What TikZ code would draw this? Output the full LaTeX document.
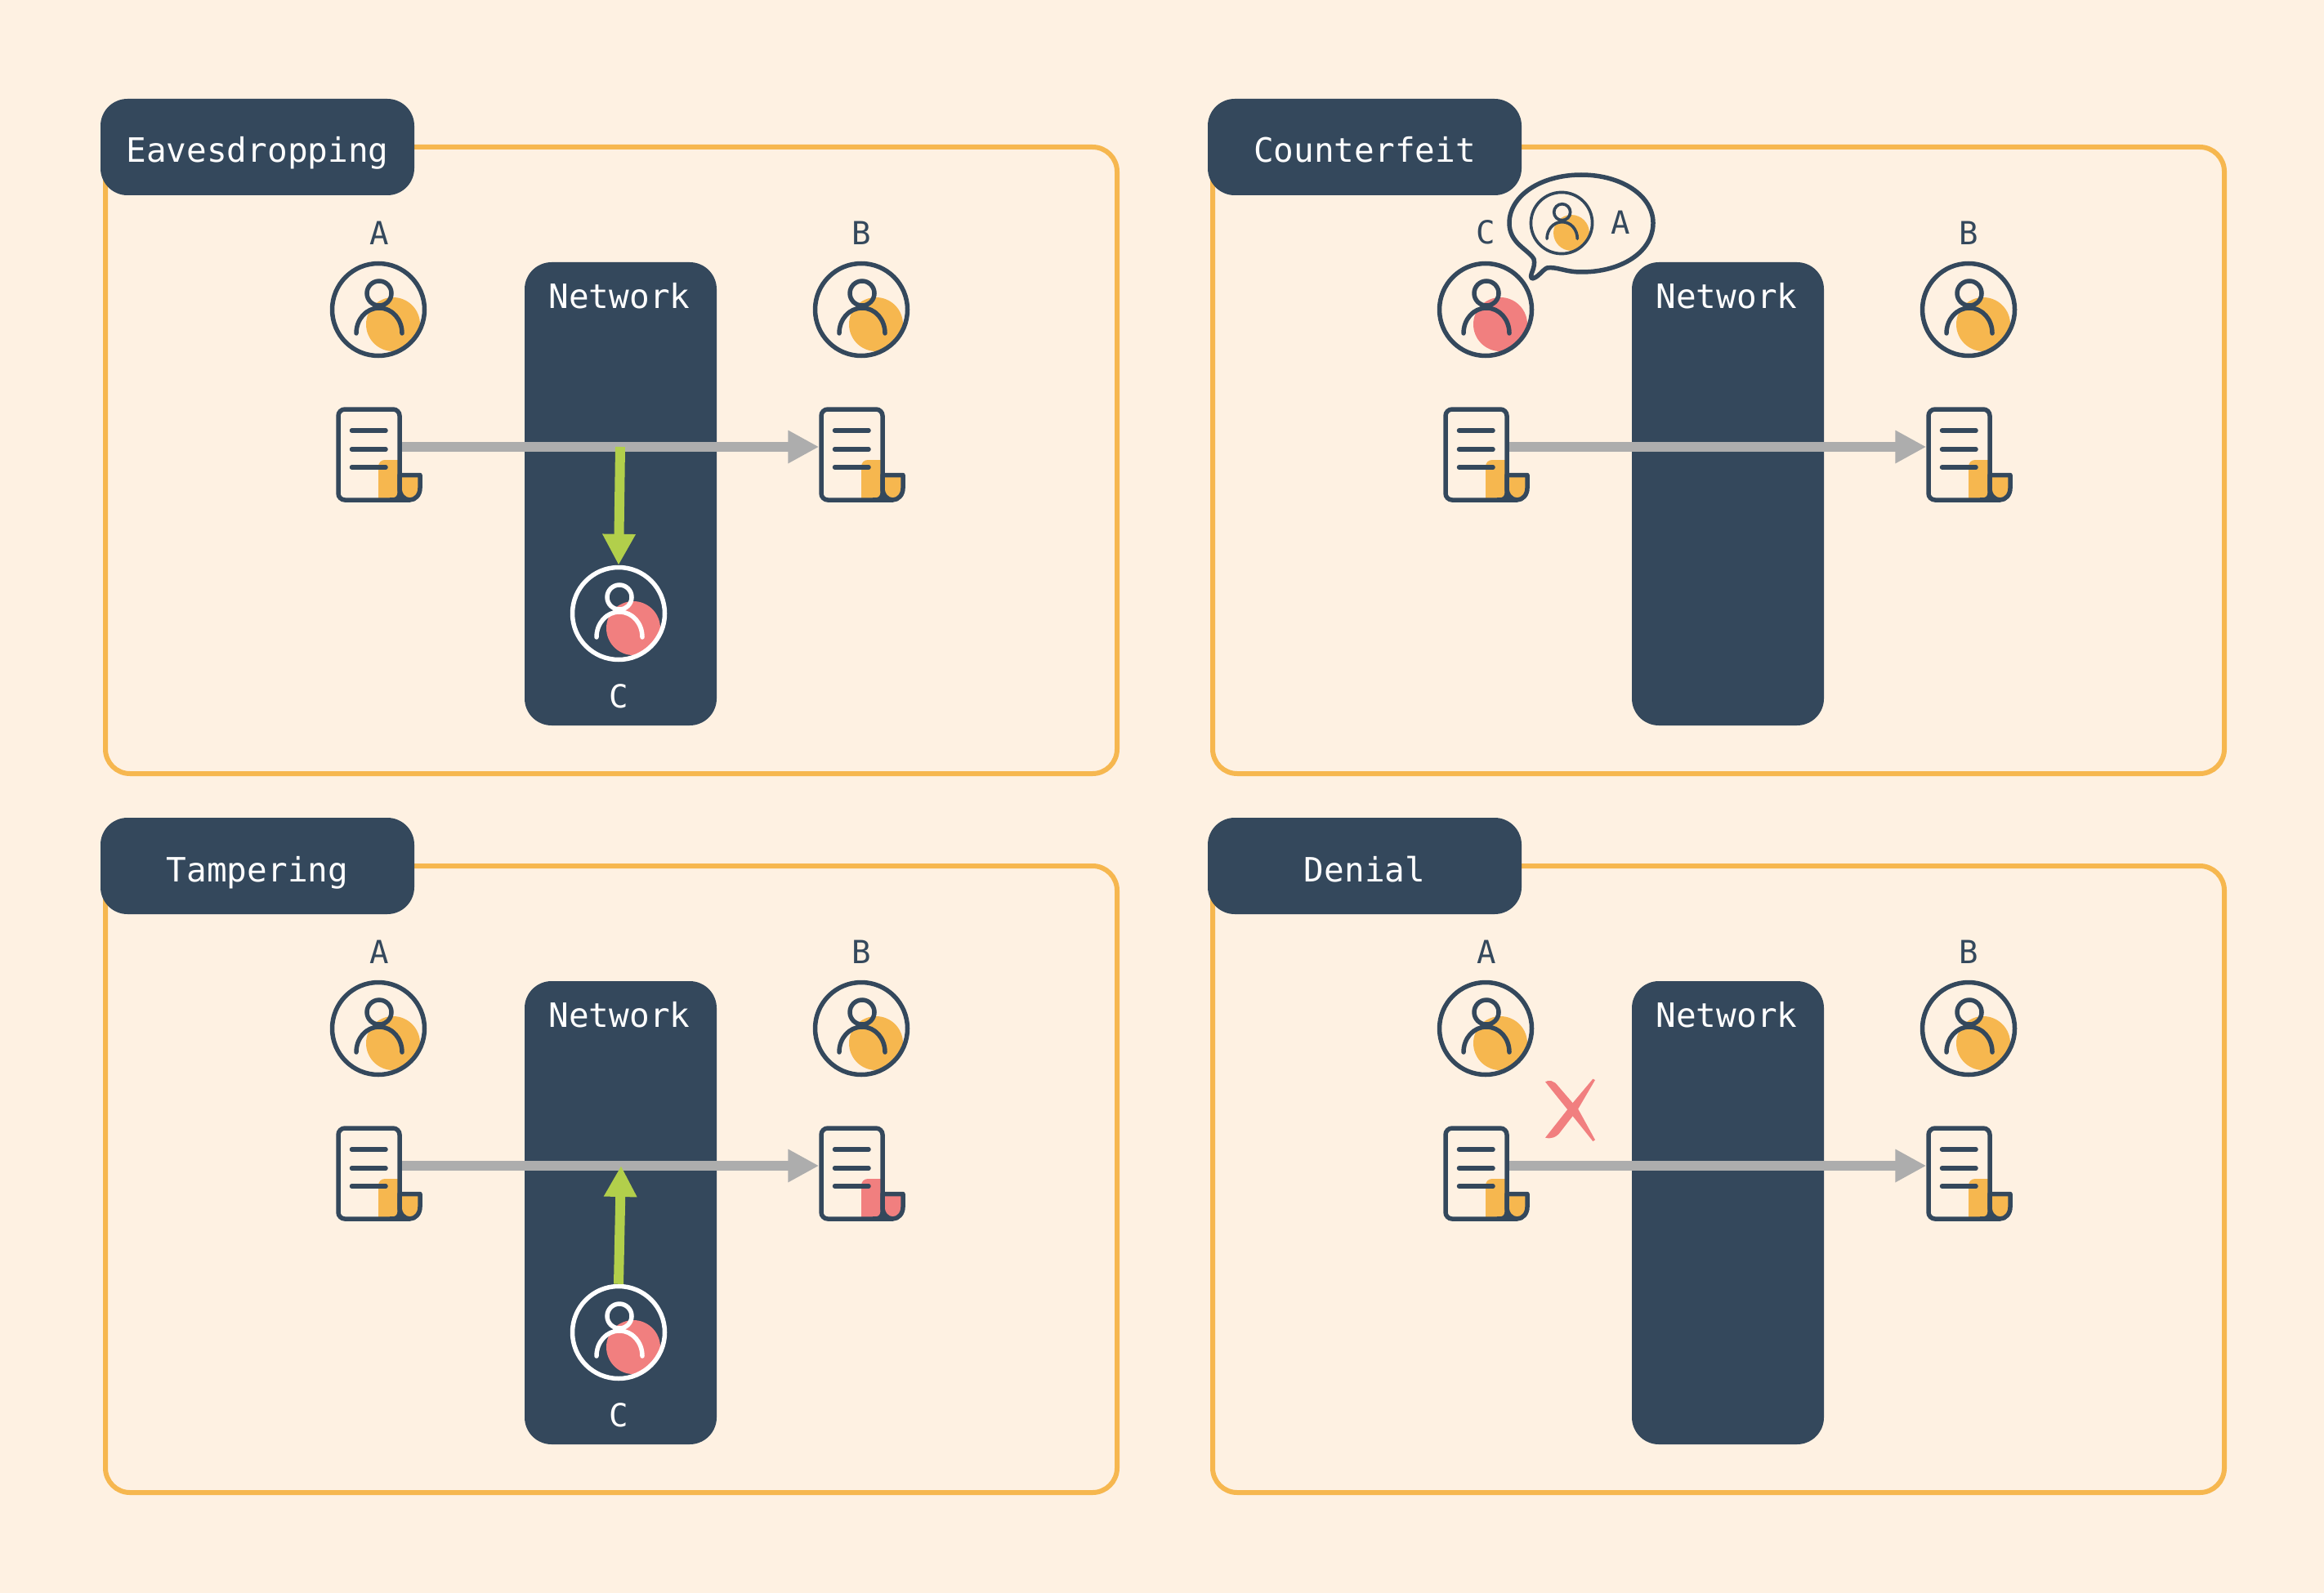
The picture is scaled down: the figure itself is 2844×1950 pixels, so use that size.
\documentclass[tikz,border=0pt]{standalone}
\usepackage{fontspec}
\setmonofont{DejaVu Sans Mono}
\usetikzlibrary{arrows.meta}
\definecolor{bgc}{HTML}{FEF1E2}
\definecolor{navy}{HTML}{34485C}
\definecolor{amber}{HTML}{F6B74F}
\definecolor{rosy}{HTML}{F17F7F}
\definecolor{grayline}{HTML}{ADADAD}
\definecolor{lime}{HTML}{B2CF4B}
\tikzset{
  panelframe/.style={draw=amber,line width=6pt,rounded corners=30pt,minimum width=1238pt,minimum height=767pt,anchor=north west,inner sep=0pt,outer sep=0pt},
  titlebox/.style={fill=navy,rounded corners=33pt,minimum width=384pt,minimum height=118pt,inner sep=0pt},
  netbox/.style={fill=navy,rounded corners=33pt,minimum width=235pt,minimum height=567pt,anchor=north west,inner sep=0pt,outer sep=0pt},
  bigtext/.style={font=\ttfamily\fontsize{41}{45}\selectfont,anchor=base,inner sep=0pt},
  smalltext/.style={font=\ttfamily\fontsize{39}{44}\selectfont,anchor=base,inner sep=0pt},
  grayarrow/.style={draw=grayline,line width=12pt,-{Triangle[length=38pt,width=38pt,fill=grayline]}},
  limearrow/.style={draw=lime,line width=12pt,-{Triangle[length=38pt,width=38pt,fill=lime]}},
  docline/.style={draw=navy,line width=5.5pt,line cap=round}
}
\newcommand{\avatar}[6]{%
  \fill[#4] ({#2+18*#6},{#3+18*#6}) circle ({33*#6});
  \node[circle,draw=#5,line width=#6*5.5pt,minimum size=#6*113pt,inner sep=0pt] (#1) at (#2,#3) {};
  \begin{scope}[shift={(#2,#3)},scale=#6]
    \draw[#5,line width=#6*5.5pt,line cap=round] (1,-20) circle[radius=15];
    \draw[#5,line width=#6*5.5pt,line cap=round] (-27,29) .. controls (-27,12) and (-15,-2) .. (1,-2) .. controls (17,-2) and (29,12) .. (29,29);
  \end{scope}
}
\newcommand{\docicon}[4]{%
  \begin{scope}[shift={(#2,#3)}]
    \fill[#4] (11.5,54) -- (11.5,14.5) .. controls (11.5,10) and (15,6.5) .. (19.5,6.5) -- (37.5,6.5) -- (37.5,54) -- cycle;
    \node[draw=navy,line width=5.5pt,rounded corners=8pt,minimum width=75pt,minimum height=111pt,inner sep=0pt] (#1) at (0,0) {};
    \draw[docline] (-21,-29.5) -- (20.5,-29.5);
    \draw[docline] (-21,-6.5) -- (20.5,-6.5);
    \draw[docline] (-21,15.5) -- (20.5,15.5);
    \draw[draw=navy,fill=#4,line width=5.5pt,line join=round] (37.5,25) -- (62.5,25) -- (62.5,41) .. controls (62.5,49) and (57,55.5) .. (50,55.5) .. controls (43,55.5) and (37.5,49) .. (37.5,41) -- cycle;
    \draw[draw=navy,line width=5.5pt] (25,55.5) -- (50,55.5);
  \end{scope}
}
\newcommand{\panelbase}[5]{% prefix, dx, dy, title, B-doc colour
  \begin{scope}[shift={(#2,#3)},name prefix=#1-]
    \node[panelframe] (frame) at (129,180) {};
    \node[titlebox] (titlebox) at (315,180) {};
    \node[bigtext,text=white] (titletext) at (315,199) {#4};
    \node[netbox] (net) at (642,321) {};
    \node[bigtext,text=white] (nettext) at (758,377) {Network};
    \docicon{docA}{451.5}{556.5}{amber}
    \docicon{docB}{1042.5}{556.5}{#5}
    \avatar{userB}{1054}{379}{amber}{navy}{1}
    \node[smalltext,text=navy] (labelB) at (1054,299.5) {B};
    \draw[grayarrow] ([yshift=9.5pt]docA.east) -- ([yshift=9.5pt]docB.west);
  \end{scope}
}
\begin{document}
\begin{tikzpicture}[x=1pt,y=-1pt]
\useasboundingbox (0,0) rectangle (2844,1950);
\fill[bgc] (0,0) rectangle (2844,1950);

% Eavesdropping
\panelbase{p1}{0}{0}{Eavesdropping}{amber}
\begin{scope}[name prefix=p1-]
  \avatar{userA}{463}{379}{amber}{navy}{1}
  \node[smalltext,text=navy] (labelA) at (464,299.5) {A};
  \avatar{userC}{757}{751}{rosy}{white}{1}
  \node[smalltext,text=white] (labelC) at (757,866) {C};
  \coordinate (tap) at (759,547);
  \draw[limearrow] (tap) -- (userC.north);
\end{scope}

% Counterfeit
\panelbase{p2}{1355}{0}{Counterfeit}{amber}
\begin{scope}[shift={(1355,0)},name prefix=p2-]
  \avatar{userC}{463}{379}{rosy}{navy}{1}
  \node[smalltext,text=navy] (labelC) at (463,298.5) {C};
\end{scope}
\draw[navy,line width=5.5pt,line join=round] (1935,214)
  .. controls (1985,214) and (2023,240) .. (2023,273)
  .. controls (2023,308) and (1985,333) .. (1935,333)
  .. controls (1915,333) and (1905,326) .. (1893,328)
  .. controls (1887,331) and (1882,340) .. (1875,341)
  .. controls (1870,338) and (1880,328) .. (1877,317)
  .. controls (1870,305) and (1847,298) .. (1847,273)
  .. controls (1847,240) and (1885,214) .. (1935,214) -- cycle;
\avatar{mini}{1911}{273}{amber}{navy}{0.665}
\node[smalltext,text=navy] (miniA) at (1983,287) {A};

% Tampering
\panelbase{p3}{0}{880}{Tampering}{rosy}
\begin{scope}[shift={(0,880)},name prefix=p3-]
  \avatar{userA}{463}{379}{amber}{navy}{1}
  \node[smalltext,text=navy] (labelA) at (464,299.5) {A};
  \avatar{userC}{757}{751}{rosy}{white}{1}
  \node[smalltext,text=white] (labelC) at (757,866) {C};
  \coordinate (tap) at (760,547);
  \draw[limearrow] (userC.north) -- (tap);
\end{scope}

% Denial
\panelbase{p4}{1355}{880}{Denial}{amber}
\begin{scope}[shift={(1355,880)},name prefix=p4-]
  \avatar{userA}{463}{379}{amber}{navy}{1}
  \node[smalltext,text=navy] (labelA) at (464,299.5) {A};
\end{scope}
\begin{scope}[shift={(1860,1290)},x=0.3333pt,y=-0.3333pt]
  \fill[rosy] (93,103) .. controls (105,95) and (125,97) .. (140,118) -- (215,205) -- (276,316) -- (268,321) -- (175,205) -- cycle;
  \fill[rosy] (93,308) -- (190,185) -- (268,92) -- (276,96) -- (212,205) -- (150,285) .. controls (135,308) and (110,314) .. (93,308) -- cycle;
\end{scope}
\end{tikzpicture}
\end{document}
